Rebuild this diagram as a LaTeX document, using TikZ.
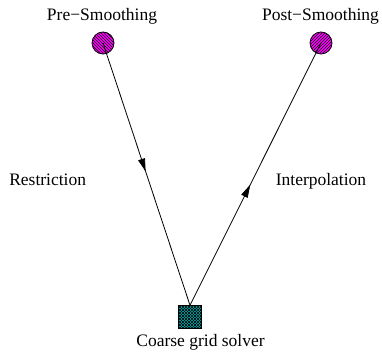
\documentclass[tikz,border=0pt]{standalone}
\usepackage{fontspec}
\setmainfont{Liberation Serif}
\usetikzlibrary{patterns,arrows.meta,decorations.markings}
\definecolor{smooth}{RGB}{255,0,255}
\definecolor{coarse}{RGB}{0,176,176}
\tikzset{
  smoothnode/.style={circle,draw=black,line width=0.8pt,fill=smooth,minimum size=22pt,inner sep=0pt},
  coarsenode/.style={rectangle,draw=black,fill=coarse,minimum size=23pt,inner sep=0pt},
  lbl/.style={font=\fontsize{17.5}{20}\selectfont,inner sep=0pt,anchor=base},
  leg/.style={line width=0.8pt},
  markat/.style={decoration={markings,mark=at position #1 with {\arrow{Triangle[length=13pt,width=7pt]}}},postaction={decorate}},
}
\begin{document}
\begin{tikzpicture}[x=1pt,y=-1pt]
  \useasboundingbox (0,0) rectangle (382,352);
  % smoothing stages and coarse solve
  \node[smoothnode] (pre) at (103,43) {};
  \fill[pattern=north west lines] (pre.center) circle (10.6pt);
  \node[smoothnode] (post) at (321,43) {};
  \fill[pattern=north east lines] (post.center) circle (10.6pt);
  \node[coarsenode] (cg) at (190,317) {};
  \fill[pattern=north east lines] (cg.south west) rectangle (cg.north east);
  \fill[pattern=north west lines] (cg.south west) rectangle (cg.north east);
  \draw[line width=0.8pt] (cg.south west) rectangle (cg.north east);
  % V-cycle legs
  \draw[leg,markat=0.49] (pre.center) -- (cg.north);
  \draw[leg,markat=0.46] (cg.north) -- (post.center);
  % labels
  \node[lbl] (tpre) at (102,20.7) {Pre−Smoothing};
  \node[lbl] (tpost) at (320.5,20.7) {Post−Smoothing};
  \node[lbl] (tres) at (47.7,185.7) {Restriction};
  \node[lbl] (tint) at (321,185.7) {Interpolation};
  \node[lbl] (tcg) at (200.5,346.7) {Coarse grid solver};
\end{tikzpicture}
\end{document}
